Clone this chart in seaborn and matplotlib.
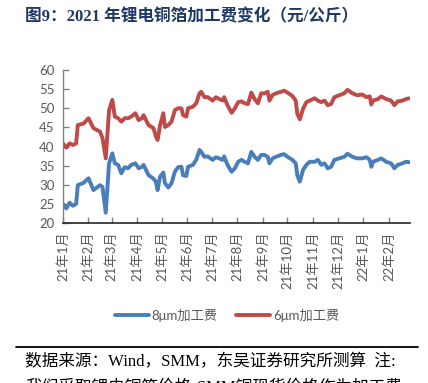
import matplotlib
matplotlib.use("Agg")
import matplotlib.pyplot as plt
from matplotlib.lines import Line2D
import seaborn as sns
import pandas as pd
import numpy as np

# ---- data ----
day = [0, 4, 8, 12, 16, 18, 25, 31, 37, 45, 48, 52, 56, 60, 63, 67, 71, 75, 79, 83,
       88, 92, 96, 98, 104, 110, 113, 115, 118, 122, 124, 128, 132, 136, 140, 144, 146, 150, 152, 158,
       162, 166, 168, 172, 176, 182, 186, 190, 194, 196, 200, 205, 209, 213, 217, 221, 225, 229, 233, 237,
       241, 245, 249, 251, 255, 259, 265, 269, 273, 279, 283, 285, 288, 292, 296, 300, 306, 310, 314, 318,
       322, 326, 330, 336, 342, 346, 352, 358, 364, 369, 373, 375, 377, 383, 387, 393, 399, 403, 407, 413,
       417, 421]
fee_8um = [25.0, 23.8, 25.3, 24.5, 25.0, 29.9, 30.5, 31.7, 28.6, 29.9, 29.4, 22.7, 35.6, 38.2, 35.6, 35.2, 33.0, 34.6, 34.3, 35.2,
           35.6, 34.3, 34.7, 35.2, 32.5, 31.6, 30.8, 28.6, 32.1, 33.2, 30.4, 29.3, 30.4, 33.4, 34.6, 34.7, 32.5, 32.3, 34.7, 35.2,
           36.5, 39.1, 38.6, 37.3, 37.4, 36.5, 37.2, 36.9, 36.5, 37.4, 35.2, 33.4, 34.3, 36.0, 36.5, 36.0, 35.6, 38.6, 37.3, 36.5,
           37.8, 37.8, 37.3, 35.6, 36.9, 37.3, 37.8, 38.0, 37.3, 36.5, 35.6, 32.4, 30.8, 33.9, 35.2, 36.0, 36.0, 36.5, 35.2, 35.6,
           34.3, 34.7, 36.5, 36.9, 37.3, 38.1, 37.3, 36.9, 36.9, 37.2, 36.5, 34.7, 36.0, 36.5, 36.9, 36.0, 35.6, 34.3, 35.2, 35.6,
           36.0, 35.9]
fee_6um = [40.8, 39.7, 40.8, 40.4, 40.8, 45.6, 46.0, 47.4, 44.8, 43.9, 42.2, 36.9, 49.5, 52.2, 47.8, 47.4, 46.5, 47.4, 47.4, 47.8,
           48.7, 46.9, 47.4, 48.2, 45.6, 44.8, 42.6, 41.7, 45.5, 48.7, 45.1, 45.6, 46.5, 49.5, 50.0, 50.0, 48.2, 47.8, 50.0, 50.4,
           51.3, 53.9, 54.3, 52.9, 52.9, 52.0, 52.9, 52.4, 52.0, 52.9, 50.8, 48.8, 50.0, 51.6, 51.8, 51.3, 51.1, 54.1, 52.4, 51.3,
           53.9, 53.9, 54.3, 52.0, 53.5, 53.9, 54.3, 54.6, 54.1, 53.2, 52.0, 48.5, 47.1, 49.9, 51.6, 52.0, 52.6, 52.0, 51.6, 52.0,
           50.8, 51.1, 52.9, 53.4, 53.9, 54.8, 53.9, 53.4, 53.6, 52.9, 53.1, 51.0, 52.0, 52.4, 53.1, 52.4, 52.0, 50.8, 51.8, 52.0,
           52.4, 52.6]
series_names = ["8μm加工费", "6μm加工费"]
tick_labels = ["21年1月", "21年2月", "21年3月", "21年4月", "21年5月", "21年6月", "21年7月",
               "21年8月", "21年9月", "21年10月", "21年11月", "21年12月", "22年1月", "22年2月"]
title = "图9：2021 年锂电铜箔加工费变化（元/公斤）"
source = "数据来源：Wind，SMM，东吴证券研究所测算  注:"
note2 = "我们采取锂电铜箔价格-SMM铜现货价格作为加工费"

start = pd.Timestamp("2021-01-01")
month_starts = pd.date_range("2021-01-01", "2022-02-01", freq="MS")
tick_pos = [(m - start).days for m in month_starts]

df = pd.concat([
    pd.DataFrame({"day": day, "value": fee_8um, "series": series_names[0]}),
    pd.DataFrame({"day": day, "value": fee_6um, "series": series_names[1]}),
])

sns.set_theme(style="white")
plt.rcParams["font.family"] = ["Lato", "Noto Sans CJK SC", "DejaVu Sans"]

W, H = 428, 383
fig = plt.figure(figsize=(W / 100, H / 100), dpi=100)
ax = fig.add_axes([63 / W, 1 - 223 / H, (410 - 63) / W, (223 - 70) / H])

colors = {"8μm加工费": "#4A7EBB", "6μm加工费": "#BE4B48"}
sns.lineplot(data=df, x="day", y="value", hue="series", palette=colors,
             linewidth=2.8, ax=ax, legend=False, estimator=None)

ax.set_xlim(0, 422)
ax.set_ylim(20, 60)
ax.set_yticks(np.arange(20, 61, 5))
ax.set_xticks(tick_pos)
ax.set_xticklabels(tick_labels, rotation=90, va="top", ha="center")
ax.set_xlabel("")
ax.set_ylabel("")
gray = "#595959"
ax.tick_params(axis="y", direction="in", length=4, width=1, color="#808080",
               labelsize=9.5, labelcolor=gray, pad=6, left=True)
ax.tick_params(axis="x", direction="in", length=4, width=1, color="#808080",
               labelsize=9.5, labelcolor=gray, pad=6, bottom=True)
for s in ["top", "right"]:
    ax.spines[s].set_visible(False)
ax.spines["left"].set_color("#808080")
ax.spines["left"].set_linewidth(1)
ax.spines["bottom"].set_color("#262626")
ax.spines["bottom"].set_linewidth(1.2)
ax.grid(False)

handles = [Line2D([0], [0], color=colors[n], lw=2.8) for n in series_names]
leg = fig.legend(handles, series_names, loc="center", bbox_to_anchor=(227 / W, 1 - 315 / H),
                 ncol=2, frameon=False, fontsize=9.5, handlelength=2.6,
                 handletextpad=0.2, columnspacing=1.4)
for t in leg.get_texts():
    t.set_color(gray)

fig.text(25 / W, 1 - 17 / H, title, fontsize=12, fontweight="bold", color="#1F3864",
         family=["Liberation Serif", "Noto Sans CJK SC"], va="center", ha="left")

fig.add_artist(Line2D([16 / W, 418 / W], [1 - 347 / H] * 2, color="black", lw=1.3))
fig.text(25 / W, 1 - 362 / H, source, fontsize=12, color="black",
         family=["Liberation Serif", "Noto Sans CJK SC"], va="center", ha="left")
fig.text(25 / W, 1 - 388 / H, note2, fontsize=12, color="black",
         family=["Liberation Serif", "Noto Sans CJK SC"], va="center", ha="left")

fig.savefig("out.png", dpi=100)
